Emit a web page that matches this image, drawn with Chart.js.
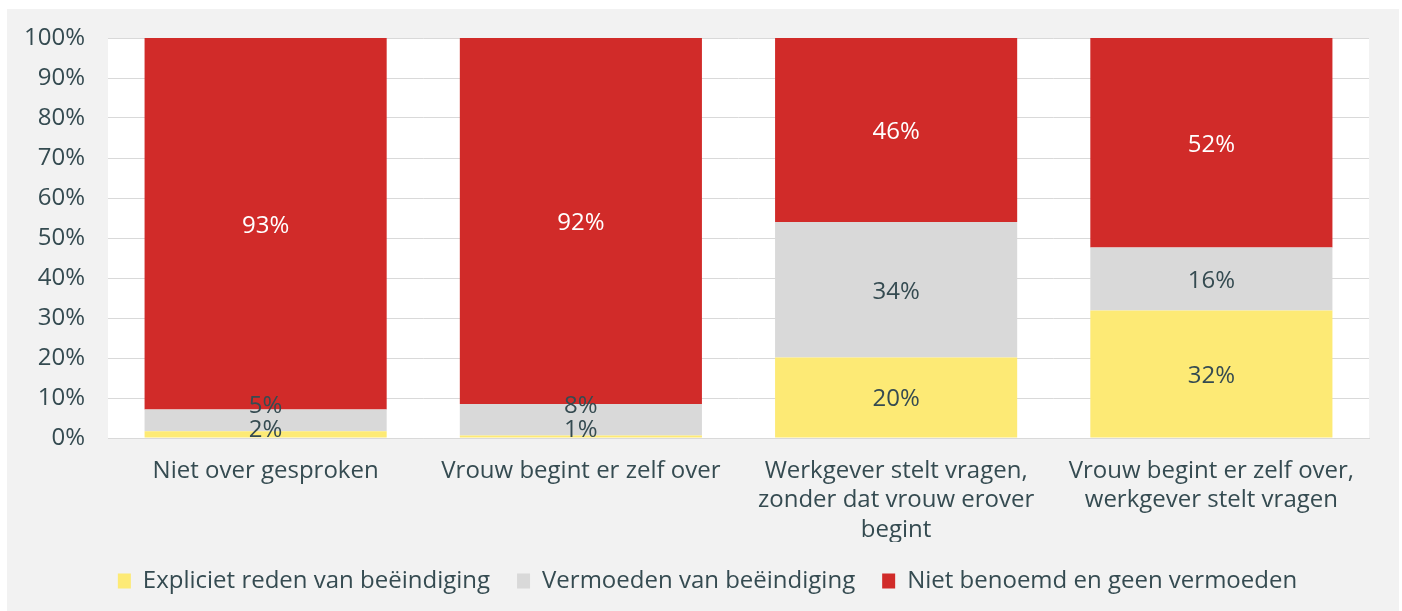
<!DOCTYPE html>
<html>
<head>
<meta charset="utf-8">
<script src="https://cdn.jsdelivr.net/npm/chart.js@4"></script>
<style>
  html, body { margin: 0; padding: 0; background: #ffffff; }
  #panel { position: absolute; left: 7px; top: 9px; width: 1392px; height: 602px; background: #f2f2f2; }
  canvas { display: block; }
</style>
</head>
<body>
<div id="panel"><canvas id="c" width="1392" height="602"></canvas></div>
<script>
const categories = [
  "Niet over gesproken",
  "Vrouw begint er zelf over",
  ["Werkgever stelt vragen,", "zonder dat vrouw erover", "begint"],
  ["Vrouw begint er zelf over,", "werkgever stelt vragen"]
];
const seriesNames = ["Expliciet reden van beëindiging", "Vermoeden van beëindiging", "Niet benoemd en geen vermoeden"];
const expliciet = [1.7, 0.6, 20.1, 31.9];
const vermoeden = [5.4, 7.9, 33.9, 15.7];
const nietBenoemd = [92.9, 91.5, 46.0, 52.4];
const yTicks = [0, 10, 20, 30, 40, 50, 60, 70, 80, 90, 100];

const TEXT = '#354b51';
const FONT = '"Open Sans"';
const FS = 24;

const plotBg = {
  id: 'plotBg',
  beforeDraw(chart) {
    const {ctx, chartArea: a} = chart;
    ctx.save();
    ctx.fillStyle = '#ffffff';
    ctx.fillRect(a.left, a.top, a.right - a.left, a.bottom - a.top);
    ctx.restore();
  }
};

const segLabels = {
  id: 'segLabels',
  afterDatasetsDraw(chart) {
    const {ctx, chartArea: a} = chart;
    ctx.save();
    ctx.font = FS + 'px ' + FONT;
    ctx.textAlign = 'center';
    ctx.textBaseline = 'middle';
    const n = chart.data.labels.length;
    for (let j = 0; j < n; j++) {
      let prev = Infinity;
      chart.data.datasets.forEach((ds, i) => {
        const el = chart.getDatasetMeta(i).data[j];
        const c = (el.y + el.base) / 2;
        const y = Math.min(c, a.bottom - 10, prev - 24);
        prev = y;
        ctx.fillStyle = ds.labelColor;
        ctx.fillText(Math.round(ds.data[j]) + '%', el.x, y + 2);
      });
    }
    ctx.restore();
  }
};

new Chart(document.getElementById('c'), {
  type: 'bar',
  data: {
    labels: categories,
    datasets: [
      { label: seriesNames[0], data: expliciet, backgroundColor: '#fdea75', labelColor: TEXT },
      { label: seriesNames[1], data: vermoeden, backgroundColor: '#d9d9d9', labelColor: TEXT },
      { label: seriesNames[2], data: nietBenoemd, backgroundColor: '#d12b29', labelColor: '#ffffff' }
    ]
  },
  options: {
    responsive: false,
    animation: false,
    datasets: { bar: { categoryPercentage: 1, barPercentage: 0.768, borderWidth: 0 } },
    layout: { padding: { left: 9, right: 0, top: 29, bottom: 8 } },
    plugins: {
      tooltip: { enabled: false },
      legend: {
        position: 'bottom',
        labels: {
          font: { family: FONT, size: FS },
          color: TEXT,
          boxWidth: 13,
          boxHeight: 15,
          padding: 27
        }
      }
    },
    scales: {
      x: {
        stacked: true,
        afterFit(scale) { scale.height = 104; scale.paddingRight = 30; },
        grid: { display: false },
        border: { display: true, color: '#d9d9d9', width: 1 },
        ticks: {
          font: { family: FONT, size: FS, lineHeight: 1.23 },
          color: TEXT,
          padding: 10,
          maxRotation: 0,
          autoSkip: false
        }
      },
      y: {
        stacked: true,
        min: 0,
        max: 100,
        afterFit(scale) { scale.width = 92; scale.paddingTop = 0; scale.paddingBottom = 0; },
        afterBuildTicks(scale) { scale.ticks = yTicks.map(v => ({ value: v })); },
        grid: { color: '#d9d9d9', lineWidth: 1, drawTicks: false },
        border: { display: false },
        ticks: {
          font: { family: FONT, size: FS },
          color: TEXT,
          padding: 23,
          callback: v => v + '%'
        }
      }
    }
  },
  plugins: [plotBg, segLabels]
});
</script>
</body>
</html>
